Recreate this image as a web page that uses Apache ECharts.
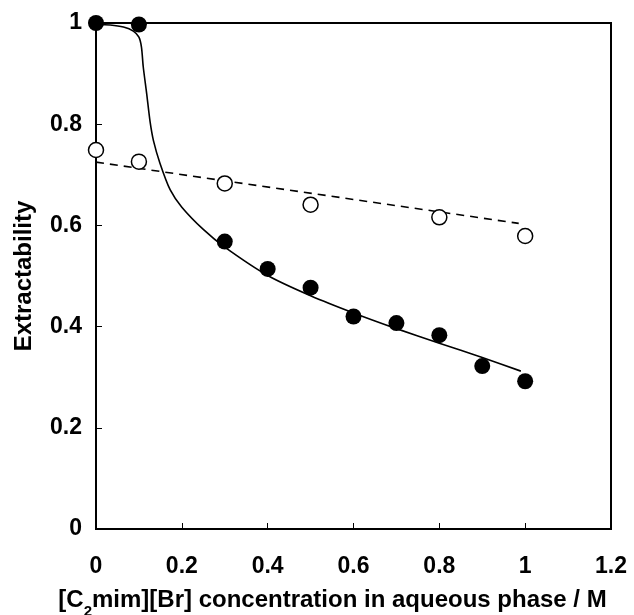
<!DOCTYPE html>
<html>
<head>
<meta charset="utf-8">
<script src="https://cdn.jsdelivr.net/npm/echarts@6/dist/echarts.min.js"></script>
<style>
  html, body { margin: 0; padding: 0; background: #fff; }
  #chart { width: 634px; height: 615px; }
</style>
</head>
<body>
<div id="chart"></div>
<script>
// measured points
var filledPts = [[0, 1.0], [0.1, 0.997], [0.3, 0.568], [0.4, 0.514], [0.5, 0.477],
                 [0.6, 0.420], [0.7, 0.407], [0.8, 0.383], [0.9, 0.322], [1.0, 0.292]];
var openPts = [[0, 0.749], [0.1, 0.726], [0.3, 0.683], [0.5, 0.641], [0.8, 0.616], [1.0, 0.579]];

// fitted curves
var fitCurve = [[0, 0.997], [0.033, 0.996], [0.064, 0.992], [0.087, 0.984], [0.1, 0.972],
                [0.106, 0.952], [0.11, 0.914], [0.118, 0.861], [0.126, 0.805], [0.134, 0.767],
                [0.149, 0.723], [0.173, 0.670], [0.2, 0.636], [0.25, 0.592], [0.3, 0.557],
                [0.4, 0.501], [0.5, 0.461], [0.6, 0.427], [0.7, 0.396],
                [0.8, 0.367], [0.9, 0.339], [0.99, 0.312]];
var fitLine = [[0, 0.725], [0.985, 0.604]];

var font = '"Liberation Sans", Arial, sans-serif';

var chart = echarts.init(document.getElementById('chart'));
chart.setOption({
    animation: false,
    backgroundColor: '#fff',
    grid: {
        left: 96, top: 23, right: 23, bottom: 86,
        outerBoundsMode: 'none',
        show: true, borderColor: '#000', borderWidth: 2
    },
    xAxis: {
        type: 'value', min: 0, max: 1.2, interval: 0.2,
        name: '[C{sub|2}mim][Br] concentration in aqueous phase / M',
        nameLocation: 'middle', nameGap: 59,
        nameTextStyle: {
            fontFamily: font, fontWeight: 'bold', fontSize: 24, color: '#000',
            padding: [0, 42, 0, 0],
            rich: {
                sub: { fontFamily: font, fontWeight: 'bold', fontSize: 15, color: '#000',
                       verticalAlign: 'bottom', padding: [0, 0, -7, 0] }
            }
        },
        axisLine: { lineStyle: { color: '#000', width: 2 } },
        axisTick: { inside: true, length: 6, lineStyle: { color: '#000', width: 1 } },
        axisLabel: { fontFamily: font, fontWeight: 'bold', fontSize: 23, color: '#000', margin: 26 },
        splitLine: { show: false }
    },
    yAxis: {
        type: 'value', min: 0, max: 1, interval: 0.2,
        name: 'Extractability',
        nameLocation: 'middle', nameGap: 60,
        nameTextStyle: { fontFamily: font, fontWeight: 'bold', fontSize: 24, color: '#000' },
        axisLine: { lineStyle: { color: '#000', width: 2 } },
        axisTick: { inside: true, length: 6, lineStyle: { color: '#000', width: 1 } },
        axisLabel: { fontFamily: font, fontWeight: 'bold', fontSize: 23, color: '#000', margin: 14 },
        splitLine: { show: false }
    },
    series: [
        {
            type: 'line', data: fitCurve, symbol: 'none',
            smooth: 0.25,
            lineStyle: { color: '#000', width: 1.6 }, z: 2
        },
        {
            type: 'line', data: fitLine, symbol: 'none',
            lineStyle: { color: '#000', width: 1.6, type: [8, 6] }, z: 2
        },
        {
            type: 'scatter', data: openPts, symbol: 'circle', symbolSize: 15,
            itemStyle: { color: '#fff', borderColor: '#000', borderWidth: 1.5, opacity: 1 }, z: 3
        },
        {
            type: 'scatter', data: filledPts, symbol: 'circle', symbolSize: 16,
            itemStyle: { color: '#000', opacity: 1 }, z: 4
        }
    ]
});
</script>
</body>
</html>
